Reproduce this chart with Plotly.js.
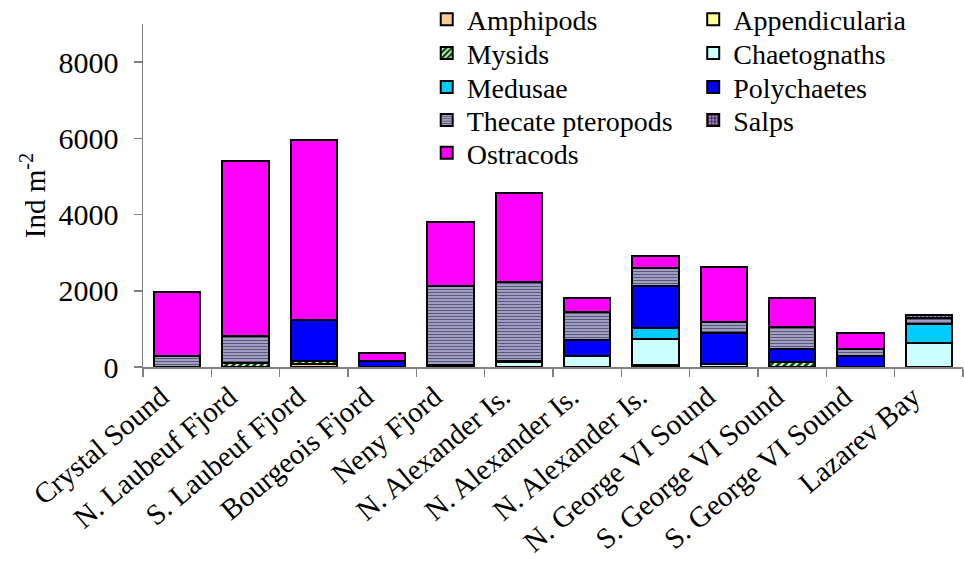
<!DOCTYPE html>
<html>
<head>
<meta charset="utf-8">
<script src="https://cdn.plot.ly/plotly-3.0.1.min.js"></script>
<style>html,body{margin:0;padding:0;background:#fff;}#chart{width:964px;height:565px;}</style>
</head>
<body>
<div id="chart"></div>
<script>
const categories = ["Crystal Sound","N. Laubeuf Fjord","S. Laubeuf Fjord","Bourgeois Fjord","Neny Fjord","N. Alexander Is.","N. Alexander Is.","N. Alexander Is.","N. George VI Sound","S. George VI Sound","S. George VI Sound","Lazarev Bay"];
const amphipods      = [null,null,80,null,null,null,null,null,null,null,null,null];
const appendicularia = [null,null,null,null,null,null,null,null,null,null,null,null];
const mysids         = [null,100,70,null,60,null,null,60,null,125,null,null];
const chaetognaths   = [null,null,null,null,null,130,300,680,90,null,null,630];
const medusae        = [null,null,null,null,null,null,null,290,null,null,null,505];
const polychaetes    = [null,null,1090,150,null,40,420,1100,800,350,300,null];
const thecate        = [300,705,null,null,2076,2054,720,480,290,565,175,150];
const salps          = [null,null,null,null,null,null,null,null,null,null,null,86];
const ostracods      = [1680,4600,4710,220,1670,2350,380,310,1436,780,418,null];
const yTicks = [0,2000,4000,6000,8000];

const xIdx = categories.map((c,i)=>i);
const line = {color:'#000', width:2};
function tr(name, y, color, legend, pattern){
  const m = {color: color, line: line};
  if (pattern) m.pattern = pattern;
  return {type:'bar', name:name, x:xIdx, y:y, marker:m, legend:legend, hoverinfo:'skip'};
}
const data = [
  tr('Amphipods', amphipods, '#ffcc99', 'legend'),
  tr('Appendicularia', appendicularia, '#ffff99', 'legend2'),
  tr('Mysids', mysids, '#ccffcc', 'legend3', {shape:'/', fgcolor:'#0f400f', bgcolor:'#ccffcc', size:5, solidity:0.55}),
  tr('Chaetognaths', chaetognaths, '#ccffff', 'legend4'),
  tr('Medusae', medusae, '#00ccff', 'legend5'),
  tr('Polychaetes', polychaetes, '#0000ff', 'legend6'),
  tr('Thecate pteropods', thecate, '#a8a8d8', 'legend7', {shape:'-', fgcolor:'#5a5a6e', bgcolor:'#b4b4e6', size:3, solidity:0.5}),
  tr('Salps', salps, '#9966cc', 'legend8', {shape:'+', fgcolor:'#222222', bgcolor:'#b080e0', size:4, solidity:0.5}),
  tr('Ostracods', ostracods, '#ff00ff', 'legend9')
];
const font = {family:'Liberation Serif, Times New Roman, serif', color:'#000'};
const plotTop = 23.5, plotBottom = 367.5, plotH = plotBottom - plotTop;
function py(pix){ return (plotBottom - pix) / plotH; }
function leg(xp, rowPix){
  return {x:xp, xanchor:'left', y:py(rowPix), yanchor:'middle', orientation:'v',
    font:Object.assign({size:28}, font), bgcolor:'rgba(0,0,0,0)', itemwidth:30, borderwidth:0};
}
const c1 = 0.346, c2 = 0.671;
const rows = [19, 53, 87, 120, 153];
const layout = {
  width:964, height:565,
  margin:{l:143, r:1, t:plotTop, b:565-plotBottom, autoexpand:false},
  paper_bgcolor:'#fff', plot_bgcolor:'#fff',
  barmode:'stack', bargap:0.325,
  font: Object.assign({size:29}, font),
  showlegend:true,
  xaxis:{
    range:[-0.5,11.5], tickmode:'array', tickvals:xIdx, ticktext:categories,
    tickangle:-40, ticks:'', showgrid:false, zeroline:false, ticklabelshift:-16,
    showline:true, linecolor:'#808080', linewidth:1.5, automargin:false,
    tickfont:Object.assign({size:29}, font),
    minor:{tickmode:'linear', tick0:-0.5, dtick:1, ticks:'outside', ticklen:8, tickwidth:1.5, tickcolor:'#808080', showgrid:false}
  },
  yaxis:{
    range:[0,9000], tickmode:'array', tickvals:yTicks, ticks:'outside', ticklen:8, tickwidth:1.5, tickcolor:'#808080',
    showline:true, linecolor:'#808080', linewidth:1.5, showgrid:false, zeroline:false, automargin:false,
    tickfont:Object.assign({size:30}, font), ticklabelstandoff:9,
    title:{text:'Ind m<sup>-2</sup>', font:Object.assign({size:29}, font), standoff:4}
  },
  legend:leg(c1, rows[0]),
  legend2:leg(c2, rows[0]),
  legend3:leg(c1, rows[1]),
  legend4:leg(c2, rows[1]),
  legend5:leg(c1, rows[2]),
  legend6:leg(c2, rows[2]),
  legend7:leg(c1, rows[3]),
  legend8:leg(c2, rows[3]),
  legend9:leg(c1, rows[4])
};
Plotly.newPlot('chart', data, layout, {displayModeBar:false, staticPlot:true});
</script>
</body>
</html>
